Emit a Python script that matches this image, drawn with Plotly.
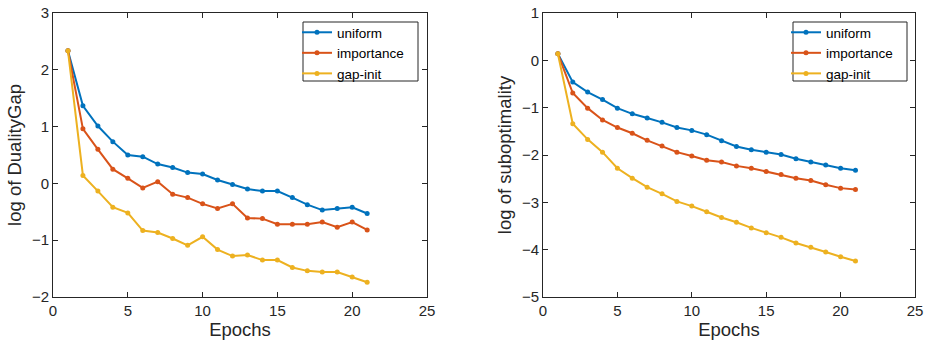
import plotly.graph_objects as go

epochs = list(range(1, 22))

gap_uniform = [2.335, 1.365, 1.01, 0.735, 0.50, 0.47, 0.34, 0.28, 0.19, 0.165, 0.06,
               -0.02, -0.10, -0.135, -0.135, -0.25, -0.375, -0.47, -0.44, -0.42, -0.53]
gap_importance = [2.335, 0.96, 0.60, 0.25, 0.09, -0.08, 0.03, -0.19, -0.25, -0.36, -0.44,
                  -0.36, -0.61, -0.62, -0.72, -0.72, -0.72, -0.68, -0.77, -0.68, -0.82]
gap_gapinit = [2.335, 0.14, -0.135, -0.42, -0.52, -0.83, -0.865, -0.97, -1.09, -0.94, -1.165,
               -1.28, -1.26, -1.35, -1.35, -1.48, -1.54, -1.56, -1.56, -1.65, -1.74]

sub_uniform = [0.14, -0.46, -0.67, -0.83, -1.01, -1.13, -1.22, -1.31, -1.42, -1.48, -1.57,
               -1.70, -1.82, -1.89, -1.94, -1.99, -2.08, -2.15, -2.21, -2.28, -2.32]
sub_importance = [0.14, -0.69, -1.01, -1.26, -1.42, -1.54, -1.69, -1.81, -1.94, -2.02, -2.11,
                  -2.15, -2.23, -2.28, -2.35, -2.41, -2.49, -2.54, -2.63, -2.70, -2.73]
sub_gapinit = [0.14, -1.34, -1.67, -1.94, -2.28, -2.49, -2.68, -2.82, -2.98, -3.08, -3.20,
               -3.32, -3.42, -3.54, -3.64, -3.74, -3.86, -3.95, -4.05, -4.15, -4.24]

names = ["uniform", "importance", "gap-init"]
colors = ["#0072BD", "#D95319", "#EDB120"]
x_ticks = [0, 5, 10, 15, 20, 25]
left_yticks = [-2, -1, 0, 1, 2, 3]
right_yticks = [-5, -4, -3, -2, -1, 0, 1]

W, H = 926, 349
FONT = "Liberation Sans, Arial, sans-serif"
AX = "#262626"

fig = go.Figure()
for series, c, n in zip([gap_uniform, gap_importance, gap_gapinit], colors, names):
    fig.add_trace(go.Scatter(x=epochs, y=series, mode="lines+markers", name=n,
                             line=dict(color=c, width=2), marker=dict(color=c, size=5),
                             xaxis="x", yaxis="y", legend="legend"))
for series, c, n in zip([sub_uniform, sub_importance, sub_gapinit], colors, names):
    fig.add_trace(go.Scatter(x=epochs, y=series, mode="lines+markers", name=n,
                             line=dict(color=c, width=2), marker=dict(color=c, size=5),
                             xaxis="x2", yaxis="y2", legend="legend2"))

def px_x(p):
    return p / W

def px_y(p):
    return 1 - p / H

axis_common = dict(showline=True, linecolor=AX, linewidth=1, mirror="allticks",
                   ticks="inside", ticklen=5, tickcolor=AX, tickwidth=1,
                   showgrid=False, zeroline=False, automargin=False,
                   ticklabeloverflow="allow",
                   tickfont=dict(family=FONT, size=15, color=AX))
title_font = dict(family=FONT, size=18.5, color=AX)
legend_common = dict(xanchor="left", yanchor="top", borderwidth=0,
                     bgcolor="rgba(0,0,0,0)", font=dict(family=FONT, size=13.5, color="black"),
                     tracegroupgap=0, itemwidth=30)

# legend frames (white boxes with a dark border) behind the legend entries
legend_frames = [dict(type="rect", xref="paper", yref="paper",
                      x0=px_x(303), x1=px_x(418), y0=px_y(81), y1=px_y(22),
                      line=dict(color=AX, width=1), fillcolor="white", layer="above"),
                 dict(type="rect", xref="paper", yref="paper",
                      x0=px_x(793), x1=px_x(907), y0=px_y(81), y1=px_y(22),
                      line=dict(color=AX, width=1), fillcolor="white", layer="above")]

ydom = [px_y(297), px_y(13)]
fig.update_layout(
    width=W, height=H,
    margin=dict(l=0, r=0, t=0, b=0),
    paper_bgcolor="white", plot_bgcolor="white",
    font=dict(family=FONT, color=AX),
    shapes=legend_frames,
    xaxis=dict(domain=[px_x(53), px_x(427)], range=[0, 25], tickvals=x_ticks,
               anchor="y", title=dict(text="Epochs", font=title_font, standoff=3),
               **axis_common),
    yaxis=dict(domain=ydom, range=[-2, 3], tickvals=left_yticks, anchor="x",
               title=dict(text="log of DualityGap", font=title_font, standoff=5),
               **axis_common),
    xaxis2=dict(domain=[px_x(543), px_x(915)], range=[0, 25], tickvals=x_ticks,
                anchor="y2", title=dict(text="Epochs", font=title_font, standoff=3),
                **axis_common),
    yaxis2=dict(domain=ydom, range=[-5, 1], tickvals=right_yticks, anchor="x2",
                title=dict(text="log of suboptimality", font=title_font, standoff=5),
                **axis_common),
    legend=dict(x=px_x(297), y=px_y(17), **legend_common),
    legend2=dict(x=px_x(786), y=px_y(17), **legend_common),
)

# remove the default 8px page margin so the figure sits at the window's corner
fig.write_html("out.html", post_script="document.body.style.margin='0';",
               config={"displayModeBar": False})
